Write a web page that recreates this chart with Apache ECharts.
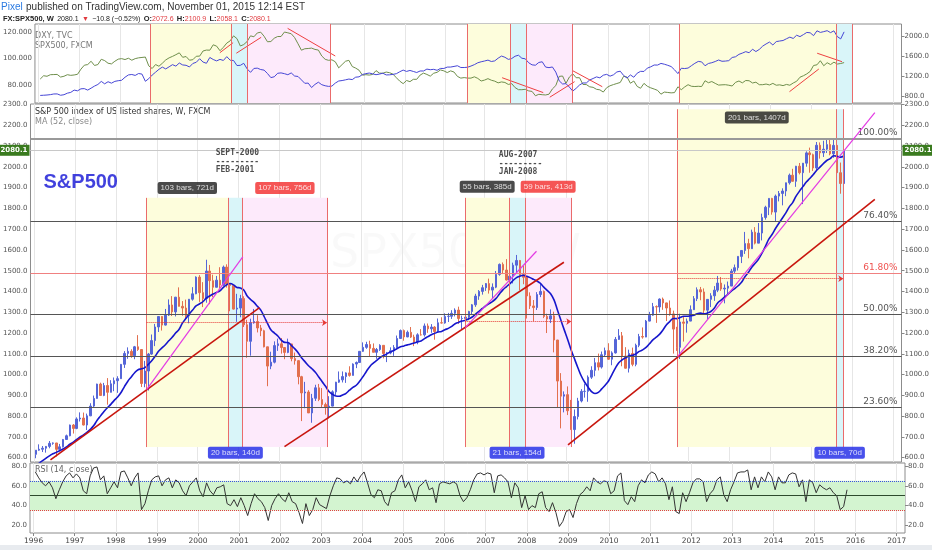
<!DOCTYPE html>
<html>
<head>
<meta charset="utf-8">
<script src="https://cdn.jsdelivr.net/npm/echarts@6/dist/echarts.min.js"></script>
<style>
  html, body { margin: 0; padding: 0; background: #fff; }
  #chart { width: 932px; height: 550px; }
</style>
</head>
<body>
<div id="chart"></div>
<script>
'use strict';

/*----- data -----*/
var yearTicks = [1996, 1997, 1998, 1999, 2000, 2001, 2002, 2003, 2004, 2005, 2006,
  2007, 2008, 2009, 2010, 2011, 2012, 2013, 2014, 2015, 2016, 2017];

// monthly closes of 1995, only used to warm up the 52 week average
var close1995 = [470.4, 487.4, 500.7, 514.7, 533.4, 544.8, 562.1, 561.9, 584.4, 581.5, 605.4, 615.9];

// monthly bars, Jan 1996 .. Oct 2015
var spxClose = [
  636.0, 640.4, 645.5, 654.2, 669.1, 670.6, 639.9, 652.0, 687.3, 705.3, 757.0, 740.7,
  786.2, 790.8, 757.1, 801.3, 848.3, 885.1, 954.3, 899.5, 947.3, 914.6, 955.4, 970.4,
  980.3, 1049.3, 1101.8, 1111.8, 1090.8, 1133.8, 1120.7, 957.3, 1017.0, 1098.7, 1163.6, 1229.2,
  1279.6, 1238.3, 1286.4, 1335.2, 1301.8, 1372.7, 1328.7, 1320.4, 1282.7, 1362.9, 1388.9, 1469.3,
  1394.5, 1366.4, 1498.6, 1452.4, 1420.6, 1454.6, 1430.8, 1517.7, 1436.5, 1429.4, 1315.2, 1320.3,
  1366.0, 1239.9, 1160.3, 1249.5, 1255.8, 1224.4, 1211.2, 1133.6, 1040.9, 1059.8, 1139.5, 1148.1,
  1130.2, 1106.7, 1147.4, 1076.9, 1067.1, 989.8, 911.6, 916.1, 815.3, 885.8, 936.3, 879.8,
  855.7, 841.2, 848.2, 916.9, 963.6, 974.5, 990.3, 1008.0, 996.0, 1050.7, 1058.2, 1111.9,
  1131.1, 1144.9, 1126.2, 1107.3, 1120.7, 1140.8, 1101.7, 1104.2, 1114.6, 1130.2, 1173.8, 1211.9,
  1181.3, 1203.6, 1180.6, 1156.9, 1191.5, 1191.3, 1234.2, 1220.3, 1228.8, 1207.0, 1249.5, 1248.3,
  1280.1, 1280.7, 1294.9, 1310.6, 1270.1, 1270.2, 1276.7, 1303.8, 1335.9, 1377.9, 1400.6, 1418.3,
  1438.2, 1406.8, 1420.9, 1482.4, 1530.6, 1503.4, 1455.3, 1474.0, 1526.8, 1549.4, 1481.1, 1468.4,
  1378.6, 1330.6, 1322.7, 1385.6, 1400.4, 1280.0, 1267.4, 1282.8, 1166.4, 968.8, 896.2, 903.3,
  825.9, 735.1, 797.9, 872.8, 919.1, 919.3, 987.5, 1020.6, 1057.1, 1036.2, 1095.6, 1115.1,
  1073.9, 1104.5, 1169.4, 1186.7, 1089.4, 1030.7, 1101.6, 1049.3, 1141.2, 1183.3, 1180.6, 1257.6,
  1286.1, 1327.2, 1325.8, 1363.6, 1345.2, 1320.6, 1292.3, 1218.9, 1131.4, 1253.3, 1247.0, 1257.6,
  1312.4, 1365.7, 1408.5, 1397.9, 1310.3, 1362.2, 1379.3, 1406.6, 1440.7, 1412.2, 1416.2, 1426.2,
  1498.1, 1514.7, 1569.2, 1597.6, 1630.7, 1606.3, 1685.7, 1633.0, 1681.6, 1756.5, 1805.8, 1848.4,
  1782.6, 1859.5, 1872.3, 1883.9, 1923.6, 1960.2, 1930.7, 2003.4, 1972.3, 2018.1, 2067.6, 2058.9,
  1995.0, 2104.5, 2067.9, 2085.5, 2107.4, 2063.1, 2103.8, 1972.2, 1920.0, 2080.1
];
var spxHigh = [
  636, 664, 656, 656, 680, 673, 671, 666, 690, 711, 759, 762,
  794, 818, 817, 812, 862, 899, 956, 961, 960, 983, 973, 986,
  992, 1051, 1113, 1131, 1122, 1138, 1190, 1122, 1066, 1104, 1193, 1244,
  1280, 1282, 1316, 1362, 1378, 1374, 1420, 1354, 1361, 1364, 1421, 1473,
  1479, 1445, 1553, 1528, 1481, 1475, 1517, 1525, 1531, 1440, 1432, 1389,
  1384, 1377, 1264, 1269, 1316, 1286, 1239, 1216, 1134, 1110, 1160, 1173,
  1176, 1131, 1173, 1148, 1106, 1070, 994, 965, 925, 907, 951, 955,
  935, 865, 896, 924, 965, 1015, 1015, 1011, 1040, 1054, 1063, 1112,
  1155, 1158, 1163, 1150, 1128, 1146, 1141, 1109, 1131, 1142, 1188, 1217,
  1217, 1212, 1229, 1192, 1199, 1219, 1246, 1246, 1243, 1233, 1270, 1276,
  1295, 1297, 1310, 1319, 1327, 1284, 1280, 1307, 1340, 1389, 1407, 1432,
  1441, 1462, 1439, 1499, 1535, 1540, 1556, 1503, 1539, 1576, 1552, 1524,
  1471, 1396, 1359, 1397, 1440, 1405, 1293, 1314, 1303, 1167, 1007, 919,
  943, 878, 832, 888, 930, 956, 996, 1040, 1080, 1101, 1111, 1130,
  1151, 1112, 1181, 1219, 1205, 1132, 1120, 1130, 1149, 1196, 1227, 1263,
  1302, 1345, 1333, 1367, 1371, 1346, 1357, 1308, 1230, 1293, 1277, 1270,
  1333, 1378, 1420, 1422, 1415, 1363, 1392, 1426, 1475, 1470, 1434, 1448,
  1509, 1530, 1570, 1598, 1687, 1654, 1698, 1710, 1730, 1775, 1813, 1849,
  1851, 1867, 1884, 1897, 1924, 1968, 1991, 2005, 2019, 2019, 2075, 2093,
  2064, 2120, 2118, 2126, 2135, 2130, 2133, 2113, 2021, 2094
];
var spxLow = [
  597, 633, 627, 624, 645, 662, 605, 639, 649, 685, 703, 716,
  737, 774, 755, 733, 800, 840, 884, 898, 896, 855, 914, 920,
  912, 979, 1032, 1076, 1081, 1074, 1114, 940, 939, 923, 1095, 1137,
  1205, 1212, 1236, 1282, 1282, 1280, 1328, 1283, 1269, 1247, 1356, 1387,
  1350, 1325, 1346, 1339, 1373, 1420, 1417, 1427, 1419, 1305, 1313, 1254,
  1276, 1229, 1081, 1091, 1245, 1203, 1185, 1131, 944, 1026, 1054, 1114,
  1101, 1074, 1103, 1064, 1048, 953, 776, 838, 815, 768, 873, 872,
  840, 807, 789, 847, 902, 960, 962, 960, 990, 996, 1031, 1056,
  1109, 1124, 1087, 1107, 1076, 1114, 1078, 1060, 1098, 1090, 1127, 1173,
  1163, 1180, 1176, 1137, 1146, 1188, 1183, 1201, 1201, 1168, 1201, 1246,
  1245, 1253, 1268, 1280, 1245, 1219, 1225, 1262, 1290, 1326, 1360, 1385,
  1403, 1390, 1364, 1416, 1476, 1484, 1453, 1371, 1439, 1489, 1406, 1435,
  1270, 1316, 1257, 1311, 1373, 1272, 1200, 1248, 1107, 840, 741, 818,
  805, 735, 667, 784, 866, 889, 869, 979, 992, 1020, 1029, 1086,
  1071, 1045, 1101, 1167, 1040, 1029, 1010, 1040, 1040, 1132, 1173, 1180,
  1256, 1283, 1249, 1299, 1312, 1258, 1283, 1101, 1114, 1075, 1159, 1202,
  1257, 1311, 1354, 1358, 1292, 1267, 1325, 1355, 1397, 1403, 1343, 1385,
  1426, 1486, 1501, 1537, 1581, 1560, 1605, 1627, 1633, 1646, 1746, 1768,
  1770, 1737, 1834, 1815, 1859, 1915, 1930, 1904, 1964, 1821, 2001, 1972,
  1981, 1980, 2040, 2048, 2067, 2056, 2044, 1867, 1871, 1893
];
var dxyClose = [
  84.5, 87.0, 86.6, 87.8, 87.9, 88.0, 86.0, 86.6, 87.8, 87.3, 87.6, 88.1,
  92.0, 95.0, 95.5, 98.0, 94.8, 95.5, 99.5, 98.5, 96.5, 96.0, 98.0, 99.6,
  100.0, 99.3, 100.3, 98.8, 100.0, 100.6, 100.9, 101.2, 94.5, 92.5, 95.5, 94.2,
  96.5, 99.0, 100.6, 101.7, 103.0, 104.4, 101.0, 101.6, 98.8, 99.2, 101.8, 101.9,
  105.8, 106.5, 106.4, 110.5, 109.5, 106.0, 108.6, 111.8, 113.5, 117.3, 115.2, 109.6,
  110.7, 113.0, 117.3, 116.6, 119.5, 120.1, 117.0, 112.8, 113.0, 115.5, 116.8, 116.8,
  120.2, 119.6, 118.9, 116.0, 111.3, 106.4, 107.5, 107.7, 108.0, 107.0, 106.5, 102.0,
  99.5, 98.7, 99.1, 97.6, 93.0, 95.5, 98.0, 98.7, 94.0, 92.8, 91.2, 87.4,
  87.8, 87.5, 88.0, 90.9, 89.0, 88.9, 89.8, 89.3, 88.2, 85.5, 82.9, 81.0,
  83.4, 82.5, 84.3, 84.3, 87.5, 89.0, 88.0, 86.7, 88.9, 89.6, 91.4, 90.7,
  89.4, 90.7, 89.8, 86.5, 85.2, 85.6, 85.2, 85.2, 86.2, 85.0, 83.0, 83.7,
  84.8, 83.6, 82.9, 81.6, 82.3, 81.9, 80.4, 81.0, 78.0, 76.4, 76.4, 76.7,
  75.5, 75.1, 71.8, 72.9, 72.6, 72.4, 73.0, 77.0, 79.5, 86.5, 86.8, 81.2,
  86.0, 88.5, 85.5, 85.5, 80.4, 80.3, 78.6, 78.2, 76.7, 76.3, 74.6, 77.9,
  79.4, 80.3, 81.1, 81.9, 86.6, 86.0, 81.3, 83.0, 78.9, 77.5, 81.2, 79.0,
  77.8, 76.9, 75.9, 73.0, 74.6, 74.3, 74.0, 74.2, 78.6, 76.4, 78.5, 80.2,
  79.0, 78.8, 79.0, 78.8, 83.2, 81.7, 82.6, 81.2, 79.9, 80.1, 80.2, 79.8,
  79.2, 82.0, 83.0, 81.6, 83.4, 83.2, 81.5, 82.1, 80.2, 80.2, 80.7, 80.0,
  81.2, 79.8, 80.1, 79.5, 80.4, 79.8, 81.5, 82.8, 85.9, 87.0, 88.4, 90.3,
  94.8, 95.3, 98.4, 94.6, 96.9, 95.5, 97.3, 95.9, 96.3, 97.0
];
var rsiValues = [
  74, 68, 63, 60, 64, 58, 47, 56, 64, 70, 73, 68,
  72, 68, 55, 52, 70, 78, 79, 66, 70, 52, 58, 64,
  58, 74, 75, 68, 60, 68, 73, 36, 42, 55, 66, 69,
  70, 60, 66, 68, 58, 66, 63, 55, 50, 60, 64, 68,
  55, 49, 63, 55, 51, 58, 59, 61, 42, 40, 46, 39,
  48, 40, 30, 42, 52, 47, 44, 38, 25, 40, 47, 52,
  47, 44, 53, 44, 42, 33, 22, 42, 30, 36, 48, 41,
  39, 37, 50, 60, 68, 67, 63, 65, 62, 69, 64, 70,
  74, 63, 51, 48, 56, 55, 44, 40, 53, 55, 66, 71,
  58, 64, 55, 44, 59, 62, 66, 56, 58, 43, 62, 64,
  63, 62, 64, 62, 50, 44, 48, 56, 66, 72, 73, 71,
  73, 72, 53, 70, 71, 68, 64, 48, 63, 58, 38, 50,
  36, 40, 38, 52, 54, 38, 34, 43, 33, 19, 24, 34,
  36, 28, 42, 51, 54, 59, 55, 68, 64, 62, 65, 64,
  52, 55, 70, 73, 45, 41, 49, 44, 60, 66, 63, 71,
  74, 72, 64, 68, 62, 46, 59, 34, 32, 53, 44, 53,
  63, 67, 67, 64, 44, 52, 56, 66, 69, 51, 44, 56,
  64, 73, 74, 74, 76, 56, 69, 58, 69, 64, 74, 69,
  56, 69, 63, 63, 71, 73, 72, 59, 66, 44, 66, 63,
  53, 61, 58, 56, 58, 53, 50, 36, 39, 56
];
var lastPrice = 2080.1;
var fibLevels = [2138, 1737, 1489, 1289, 1089, 841];
var fibNames = ['100.00%', '76.40%', '61.80%', '50.00%', '38.20%', '23.60%'];
var rsiBands = [65, 50, 35];

// date ranges: [from, to, kind]  (y = yellow, c = cyan, p = pink)
var topZones = [
  [1998.75, 2000.74, 'y'], [2000.74, 2001.13, 'c'], [2001.13, 2003.16, 'p'],
  [2006.54, 2007.59, 'y'], [2007.59, 2007.98, 'c'], [2007.98, 2009.12, 'p'],
  [2011.74, 2015.60, 'y'], [2015.60, 2015.99, 'c']
];
var topEdges = [1998.75, 2000.74, 2001.13, 2003.16, 2006.54, 2007.59, 2007.98, 2009.12, 2011.74, 2015.60, 2015.99];
// [from, to, low, high, kind]
var mainZones = [
  [1998.75, 2000.74, 651, 1851, 'y'], [2000.74, 2001.10, 651, 1851, 'c'], [2001.10, 2003.16, 651, 1851, 'p'],
  [2006.54, 2007.61, 651, 1851, 'y'], [2007.61, 2008.00, 651, 1851, 'c'], [2008.00, 2009.13, 651, 1851, 'p'],
  [2011.73, 2015.60, 651, 2278, 'y'], [2015.60, 2015.78, 651, 2278, 'c']
];
var mainEdges = [
  [1998.75, 651, 1851], [2000.74, 651, 1851], [2001.10, 651, 1851], [2003.16, 651, 1851],
  [2006.54, 651, 1851], [2007.61, 651, 1851], [2008.00, 651, 1851], [2009.13, 651, 1851],
  [2011.73, 651, 2278], [2015.60, 651, 2278], [2015.78, 651, 2278]
];
// dotted projections [from, to, level]
var projections = [[1998.75, 2003.16, 1250], [2006.54, 2009.13, 1255], [2011.73, 2015.78, 1462]];

var redTrends = [
  [[1996.40, 589], [2001.51, 1322]],
  [[2002.12, 653], [2008.95, 1541]],
  [[2009.05, 661], [2016.55, 1844]]
];
var magentaTrends = [
  [[1998.75, 928], [2001.10, 1567]],
  [[2006.54, 1226], [2008.28, 1594]],
  [[2011.73, 1087], [2016.55, 2261]]
];
var dxyTrends = [
  [[2000.455, 104.5], [2000.78, 112.1]],
  [[2000.86, 104.1], [2001.47, 116.2]],
  [[2002.12, 123.0], [2003.29, 102.0]],
  [[2007.39, 85.5], [2008.40, 74.2]],
  [[2008.56, 70.7], [2009.17, 82.5]],
  [[2009.12, 90.9], [2009.85, 78.7]],
  [[2014.45, 74.9], [2015.17, 92.1]],
  [[2015.13, 104.1], [2015.74, 97.7]]
];

// range measurements [x, price, text, kind]
var rangeTags = [
  [1999.745, 1899, '103 bars, 721d', 'k'],
  [2002.13, 1899, '107 bars, 756d', 'r'],
  [2000.92, 623, '20 bars, 140d', 'b'],
  [2007.075, 1904, '55 bars, 385d', 'k'],
  [2008.565, 1904, '59 bars, 413d', 'r'],
  [2007.805, 623, '21 bars, 154d', 'b'],
  [2013.665, 2238, '201 bars, 1407d', 'k'],
  [2015.69, 623, '10 bars, 70d', 'b']
];
// notes [x, price, text, kind]
var notes = [
  [1996.23, 1923, 'S&P500', 'title'],
  [2000.44, 2067, 'SEPT-2000', 'date'],
  [2000.44, 2025, '---------', 'date'],
  [2000.44, 1985, 'FEB-2001', 'date'],
  [2007.36, 2058, 'AUG-2007', 'date'],
  [2007.36, 2016, '---------', 'date'],
  [2007.36, 1975, 'JAN-2008', 'date']
];

/*----- helpers -----*/
var X_MIN = 1995.912, X_MAX = 2017.202;
var UP = '#5566d8', DOWN = '#e2704f';
var zoneColor = { y: '#fdfddc', c: '#d9f5f9', p: '#fdeafb' };
var tagColor = { k: '#1d1d1d', r: '#f22b2b', b: '#1a24e6' };
var FONT = 'DejaVu Sans';
var SANS = 'Liberation Sans';

function monthPos(i) { return 1996 + (i + 0.5) / 12; }

var candles = spxClose.map(function (c, i) {
  var open = i === 0 ? close1995[11] : spxClose[i - 1];
  return [monthPos(i), open, c, spxLow[i], spxHigh[i]];
});
var allClose = close1995.concat(spxClose);
var ma52 = spxClose.map(function (c, i) {
  var win = allClose.slice(i + 1, i + 13);
  var s = 0;
  win.forEach(function (v) { s += v; });
  return [monthPos(i), +(s / win.length).toFixed(1)];
});

function xAxisFor(g, labels) {
  return {
    type: 'value', gridIndex: g, min: X_MIN, max: X_MAX,
    axisLine: { show: false },
    axisTick: { show: labels, customValues: yearTicks, length: 3, lineStyle: { color: '#888' } },
    axisLabel: { show: labels, customValues: yearTicks, formatter: function (v) { return String(v); },
      fontSize: 7.5, color: '#444', margin: 4, fontFamily: FONT },
    splitLine: { show: true, lineStyle: { color: '#e6e6e6', width: 1 } }
  };
}
function yAxisFor(g, pos, min, max, ticks, digits, hidden) {
  return {
    type: 'value', gridIndex: g, position: pos, min: min, max: max, show: !hidden,
    axisLine: { show: false },
    axisTick: { show: pos === 'right', customValues: ticks, length: 3, lineStyle: { color: '#888' } },
    axisLabel: { customValues: ticks, formatter: function (v) { return v.toFixed(digits); },
      fontSize: 7, color: '#555', margin: 3, fontFamily: FONT },
    splitLine: { show: false }
  };
}
var mainTicks = [];
for (var p = 600; p <= 2300; p += 100) mainTicks.push(p);

var series = [];

/*----- top panel: DXY vs SPX500 -----*/
series.push({
  type: 'line', xAxisIndex: 0, yAxisIndex: 0, data: [], z: 1, silent: true,
  markArea: { silent: true, data: topZones.map(function (z) {
    return [{ xAxis: z[0], itemStyle: { color: zoneColor[z[2]] } }, { xAxis: z[1] }];
  }) },
  markLine: { silent: true, symbol: 'none', label: { show: false },
    lineStyle: { color: '#ea6b6b', width: 1, type: 'solid' },
    data: topEdges.map(function (t) { return { xAxis: t }; }) }
});
series.push({ type: 'line', xAxisIndex: 0, yAxisIndex: 0, showSymbol: false, z: 3,
  data: dxyClose.map(function (v, i) { return [monthPos(i), v]; }),
  lineStyle: { color: '#6f8f4c', width: 1 } });
series.push({ type: 'line', xAxisIndex: 0, yAxisIndex: 2, showSymbol: false, z: 3,
  data: spxClose.map(function (v, i) { return [monthPos(i), v]; }),
  lineStyle: { color: '#4646d6', width: 1 } });
dxyTrends.forEach(function (seg) {
  series.push({ type: 'line', xAxisIndex: 0, yAxisIndex: 0, data: seg, showSymbol: false, z: 4,
    lineStyle: { color: '#ee4040', width: 1 } });
});

/*----- main panel -----*/
var mainMarks = [];
mainEdges.forEach(function (e) {
  mainMarks.push([{ coord: [e[0], e[1]] }, { coord: [e[0], e[2]] }]);
});
projections.forEach(function (pr) {
  mainMarks.push([{ coord: [pr[0], pr[2]], lineStyle: { type: 'dotted', color: '#e53935' } },
    { coord: [pr[1], pr[2]], symbol: 'arrow', symbolSize: 5 }]);
});
fibLevels.forEach(function (v, i) {
  var red = fibNames[i] === '61.80%';
  mainMarks.push({ yAxis: v,
    lineStyle: { color: red ? '#f08080' : (i === 0 ? '#999' : '#555'), width: i === 0 ? 2 : 1, type: 'solid' },
    label: { show: true, position: 'insideEndTop', formatter: fibNames[i], distance: [4, 1],
      color: red ? '#ef5350' : '#555', fontSize: 9, fontFamily: FONT } });
});
['start', 'end'].forEach(function (side) {
  mainMarks.push({ yAxis: lastPrice, lineStyle: { color: '#c8c8c8', width: 1, type: 'solid' },
    label: { show: true, position: side, distance: 1, formatter: lastPrice.toFixed(1),
      backgroundColor: '#3a7b1f', color: '#fff', fontSize: 7, fontWeight: 'bold', padding: [2, 2], fontFamily: FONT } });
});

series.push({
  type: 'line', xAxisIndex: 1, yAxisIndex: 4, data: [], z: 1, silent: true,
  markArea: { silent: true, data: mainZones.map(function (z) {
    return [{ coord: [z[0], z[3]], itemStyle: { color: zoneColor[z[4]] } }, { coord: [z[1], z[2]] }];
  }) },
  markLine: { silent: true, symbol: 'none', label: { show: false },
    lineStyle: { color: '#ea6b6b', width: 1, type: 'solid' }, data: mainMarks }
});
series.push({
  type: 'candlestick', xAxisIndex: 1, yAxisIndex: 4, data: candles, barWidth: 2, z: 3,
  itemStyle: { color: UP, color0: DOWN, borderColor: UP, borderColor0: DOWN, borderWidth: 1 }
});
series.push({ type: 'line', xAxisIndex: 1, yAxisIndex: 4, data: ma52, showSymbol: false, smooth: 0.4, z: 4,
  lineStyle: { color: '#1616cc', width: 1.6 } });
redTrends.forEach(function (seg) {
  series.push({ type: 'line', xAxisIndex: 1, yAxisIndex: 4, data: seg, showSymbol: false, z: 5,
    lineStyle: { color: '#c8160e', width: 1.6 } });
});
magentaTrends.forEach(function (seg) {
  series.push({ type: 'line', xAxisIndex: 1, yAxisIndex: 4, data: seg, showSymbol: false, z: 5,
    lineStyle: { color: '#e33be3', width: 1.2 } });
});
series.push({
  type: 'scatter', xAxisIndex: 1, yAxisIndex: 4, symbolSize: 0, z: 8, silent: true,
  data: rangeTags.map(function (r) {
    return { value: [r[0], r[1]], label: { show: true, position: 'inside', formatter: r[2],
      backgroundColor: tagColor[r[3]], color: '#fff', fontSize: 8, fontFamily: SANS,
      padding: [2, 3], borderRadius: 2 } };
  }).concat(notes.map(function (n) {
    var title = n[3] === 'title';
    return { value: [n[0], n[1]], label: { show: true, position: 'right', distance: 0, formatter: n[2],
      color: title ? '#1212d4' : '#222', fontWeight: 'bold',
      fontSize: title ? 20 : 8, fontFamily: title ? SANS : 'DejaVu Sans Mono' } };
  }))
});

/*----- RSI panel -----*/
series.push({
  type: 'line', xAxisIndex: 2, yAxisIndex: 6, showSymbol: false, z: 3,
  data: rsiValues.map(function (v, i) { return [monthPos(i), v]; }),
  lineStyle: { color: '#333', width: 1 },
  markArea: { silent: true, itemStyle: { color: '#d3f4d0' }, data: [[{ yAxis: rsiBands[2] }, { yAxis: rsiBands[0] }]] },
  markLine: { silent: true, symbol: 'none', label: { show: false }, data: [
    { yAxis: rsiBands[0], lineStyle: { color: '#3b4fe0', type: 'dotted', width: 1 } },
    { yAxis: rsiBands[1], lineStyle: { color: '#2d4a2d', type: 'solid', width: 1 } },
    { yAxis: rsiBands[2], lineStyle: { color: '#e04040', type: 'dotted', width: 1 } }
  ] }
});

var gridBase = { left: 30, right: 27, show: true, borderColor: '#8c8c8c', borderWidth: 1 };
var option = {
  animation: false,
  backgroundColor: '#fff',
  textStyle: { fontFamily: FONT },
  grid: [
    Object.assign({ top: 24, height: 79 }, gridBase),
    Object.assign({ top: 104, height: 358 }, gridBase),
    Object.assign({ top: 463, height: 70 }, gridBase)
  ],
  xAxis: [xAxisFor(0, false), xAxisFor(1, false), xAxisFor(2, true)],
  yAxis: [
    yAxisFor(0, 'left', 66.3, 126.3, [80, 100, 120], 3),
    yAxisFor(0, 'right', 660, 2240, [800, 1200, 1600, 2000], 1),
    yAxisFor(0, 'right', 464, 2259, [], 1, true),
    yAxisFor(1, 'left', 579, 2303, mainTicks, 1),
    yAxisFor(1, 'right', 579, 2303, mainTicks, 1),
    yAxisFor(2, 'left', 12.4, 83, [20, 40, 60, 80], 1),
    yAxisFor(2, 'right', 12.4, 83, [20, 40, 60, 80], 1)
  ],
  graphic: [
    { type: 'text', left: 1, top: 1, style: {
      text: '{a|Pixel} {b|published on TradingView.com, November 01, 2015 12:14 EST}',
      rich: { a: { fill: '#2a7ae2', fontSize: 10, fontFamily: SANS },
              b: { fill: '#333', fontSize: 10, fontFamily: SANS } } } },
    { type: 'text', left: 3, top: 13, style: {
      text: '{k|FX:SPX500, W} {v|2080.1} {r|\u25BC} {v|\u221210.8 (\u22120.52%)} {k|O:}{r|2072.6} {k|H:}{r|2100.9} {k|L:}{r|2058.1} {k|C:}{r|2080.1}',
      rich: { k: { fill: '#222', fontSize: 7.5, fontWeight: 'bold', fontFamily: SANS },
              v: { fill: '#222', fontSize: 7, fontFamily: SANS },
              r: { fill: '#e0393e', fontSize: 7, fontFamily: SANS } } } },
    { type: 'text', left: 35, top: 32, style: { text: 'DXY, TVC', fill: '#777', fontSize: 8, fontFamily: FONT } },
    { type: 'text', left: 35, top: 42, style: { text: 'SPX500, FXCM', fill: '#777', fontSize: 8, fontFamily: FONT } },
    { type: 'text', left: 35, top: 108, style: { text: 'S&P 500 index of US listed shares, W, FXCM', fill: '#333', fontSize: 8, fontFamily: FONT } },
    { type: 'text', left: 35, top: 118, style: { text: 'MA (52, close)', fill: '#888', fontSize: 8, fontFamily: FONT } },
    { type: 'text', left: 35, top: 466, style: { text: 'RSI (14, close)', fill: '#666', fontSize: 8, fontFamily: FONT } },
    { type: 'text', left: 330, top: 232, style: { text: 'SPX500, W', fill: 'rgba(0,0,0,0.025)', fontSize: 46, fontFamily: FONT } },
    { type: 'rect', left: 0, top: 545, shape: { width: 932, height: 5 }, style: { fill: '#e8ebef' } }
  ],
  series: series
};

var chart = echarts.init(document.getElementById('chart'));
chart.setOption(option);
</script>
</body>
</html>
